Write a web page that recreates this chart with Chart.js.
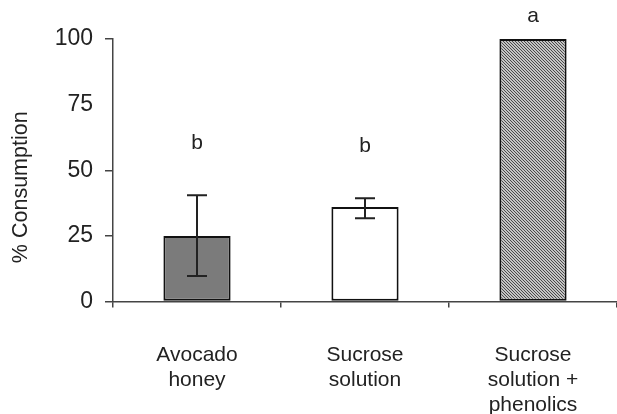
<!DOCTYPE html>
<html>
<head>
<meta charset="utf-8">
<script src="https://cdn.jsdelivr.net/npm/chart.js@4.4.1/dist/chart.umd.min.js"></script>
<style>
  html, body { margin: 0; padding: 0; background: #fff; }
  #wrap { width: 617px; height: 414px; position: relative; }
</style>
</head>
<body>
<div id="wrap"><canvas id="chart"></canvas></div>
<script>
const categories = [['Avocado', 'honey'], ['Sucrose', 'solution'], ['Sucrose', 'solution +', 'phenolics']];
const consumption = [25, 36, 100];
const errLow = [15.3, 4.3, 0];
const errHigh = [15.5, 3.3, 0];
const letters = ['b', 'b', 'a'];
const yTicks = [0, 25, 50, 75, 100];
const yTitle = '% Consumption';

const FONT = '"Liberation Sans", Arial, sans-serif';
const ink = '#222';

// diagonal hatch for the third bar
function hatch() {
  const c = document.createElement('canvas');
  c.width = 3; c.height = 3;
  const g = c.getContext('2d');
  g.fillStyle = '#c4c4c4';
  g.fillRect(0, 0, 3, 3);
  g.fillStyle = '#4a4a4a';
  for (let i = 0; i < 3; i++) g.fillRect(i, i, 1, 1);
  return g.createPattern(c, 'repeat');
}

const errorBars = {
  id: 'errorBars',
  afterDatasetsDraw(chart) {
    const ctx = chart.ctx;
    const y = chart.scales.y;
    const meta = chart.getDatasetMeta(0);
    ctx.save();
    meta.data.forEach((bar, i) => {
      const v = consumption[i];
      const top = v + errHigh[i];
      if (errLow[i] || errHigh[i]) {
        const yt = y.getPixelForValue(top);
        const yb = y.getPixelForValue(v - errLow[i]);
        ctx.strokeStyle = ink;
        ctx.lineWidth = 2;
        ctx.beginPath();
        ctx.moveTo(bar.x, yt); ctx.lineTo(bar.x, yb);
        ctx.moveTo(bar.x - 10, yt); ctx.lineTo(bar.x + 10, yt);
        ctx.moveTo(bar.x - 10, yb); ctx.lineTo(bar.x + 10, yb);
        ctx.stroke();
      }
      // significance letter above the bar
      ctx.fillStyle = ink;
      ctx.font = '21px ' + FONT;
      ctx.textAlign = 'center';
      ctx.textBaseline = 'middle';
      const ly = Math.max(y.getPixelForValue(top) - 52, 16);
      ctx.fillText(letters[i], bar.x, ly);
    });
    // y axis title, sits a bit below the middle of the axis in the original
    const mid = (y.top + y.bottom) / 2 + 17;
    ctx.translate(21, mid);
    ctx.rotate(-Math.PI / 2);
    ctx.font = '21.5px ' + FONT;
    ctx.fillText(yTitle, 0, 0);
    ctx.restore();
  }
};

new Chart(document.getElementById('chart'), {
  type: 'bar',
  data: {
    labels: categories,
    datasets: [{
      data: consumption,
      backgroundColor: ['#7b7b7b', '#ffffff', hatch()],
      borderColor: '#111',
      borderWidth: 2,
      borderSkipped: false,
      barPercentage: 0.8,
      categoryPercentage: 0.5
    }]
  },
  options: {
    responsive: true,
    maintainAspectRatio: false,
    animation: false,
    layout: { padding: { top: 39, right: 0, left: 0, bottom: 0 } },
    plugins: { legend: { display: false }, tooltip: { enabled: false } },
    scales: {
      x: {
        grid: { display: true, drawOnChartArea: false, tickLength: 6, color: '#444', lineWidth: 1.5, offset: true },
        border: { color: '#444', width: 1.5 },
        ticks: { color: ink, font: { size: 21, family: FONT, lineHeight: '25px' }, padding: 35, maxRotation: 0 },
        afterFit(s) { s.height = 112.5; }
      },
      y: {
        min: 0, max: 100,
        afterBuildTicks(s) { s.ticks = yTicks.map(v => ({ value: v })); },
        // the original has no tick mark at 75
        grid: { display: true, drawOnChartArea: false, tickLength: 8, lineWidth: 1.5,
                color: c => (c.tick && c.tick.value === 75) ? 'rgba(0,0,0,0)' : '#444' },
        border: { color: '#444', width: 1.5 },
        ticks: { color: ink, font: { size: 23, family: FONT }, padding: 12 },
        afterFit(s) { s.width = 113; }
      }
    }
  },
  plugins: [errorBars]
});
</script>
</body>
</html>
